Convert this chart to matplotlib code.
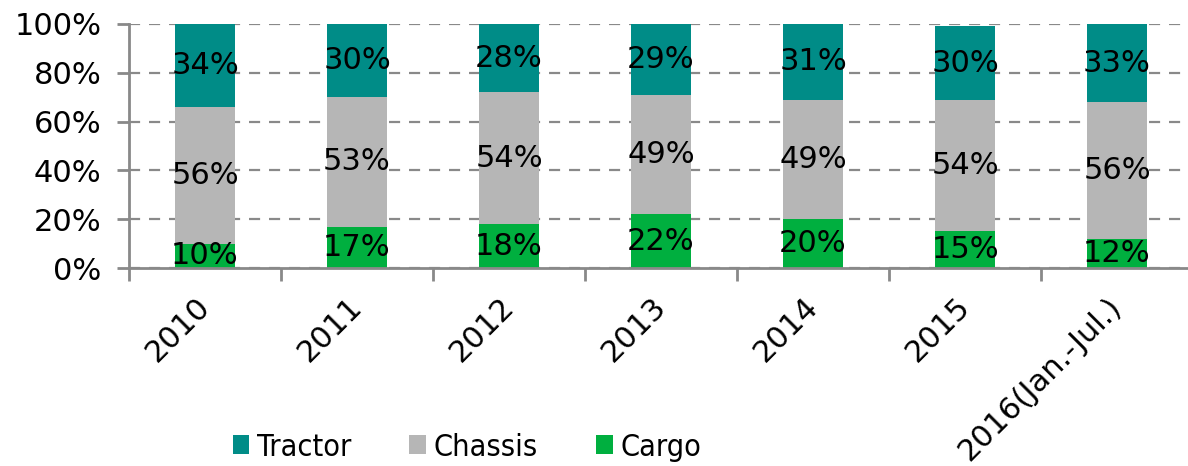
import matplotlib
matplotlib.use("Agg")
import matplotlib.pyplot as plt
import matplotlib.transforms as mtransforms
import numpy as np
from matplotlib.font_manager import FontProperties
from matplotlib.ticker import FixedLocator, PercentFormatter

years = ["2010", "2011", "2012", "2013", "2014", "2015", "2016(Jan.-Jul.)"]
tractor = [34, 30, 28, 29, 31, 30, 33]
chassis = [56, 53, 54, 49, 49, 54, 56]
cargo = [10, 17, 18, 22, 20, 15, 12]

TEAL = "#008C87"
GREY = "#B6B6B6"
GREEN = "#00AF3F"
AXIS = "#898989"

plt.rcParams["font.family"] = "DejaVu Sans"

fig = plt.figure(figsize=(11.88, 4.66), dpi=100)
ax = fig.add_axes([129 / 1188, 198 / 466, 1064 / 1188, 244 / 466])

x = np.arange(len(years))
cargo_a = np.array(cargo)
chassis_a = np.array(chassis)
b1 = ax.bar(x, cargo, 0.4, color=GREEN, label="Cargo", zorder=2)
b2 = ax.bar(x, chassis, 0.4, bottom=cargo_a, color=GREY, label="Chassis", zorder=2)
b3 = ax.bar(x, tractor, 0.4, bottom=cargo_a + chassis_a, color=TEAL, label="Tractor", zorder=2)

# segment labels sit a few pixels below the exact centre
down = mtransforms.ScaledTranslation(0, -4 / 100, fig.dpi_scale_trans)
for cont, vals in ((b1, cargo), (b2, chassis), (b3, tractor)):
    texts = ax.bar_label(cont, labels=[f"{v}%" for v in vals], label_type="center",
                         fontsize=22, color="black")
    for t in texts:
        t.set_transform(t.get_transform() + down)

ax.set_xlim(-0.5, 6.5)
ax.set_ylim(0, 100)
ax.set_yticks(range(0, 101, 20))
ax.yaxis.set_major_formatter(PercentFormatter(decimals=0))
ax.set_xticks(x)
ax.set_xticklabels([])
ax.xaxis.set_minor_locator(FixedLocator(np.arange(-0.5, 7, 1)))
ax.tick_params(axis="x", which="major", length=0)
ax.tick_params(axis="x", which="minor", length=9, width=2, color=AXIS)
ax.tick_params(axis="y", length=9, width=2, color=AXIS, labelsize=22, pad=11)

# rotated year labels, anchored just below the axis, a little left of centre
lab_tr = ax.get_xaxis_transform() + mtransforms.ScaledTranslation(
    -10 / 100, -24 / 100, fig.dpi_scale_trans)
for xi, yr in zip(x, years):
    ax.text(xi, 0, yr, transform=lab_tr, rotation=45, ha="right", va="top",
            rotation_mode="anchor", fontsize=22)

ax.set_axisbelow(True)
ax.yaxis.grid(True, color=AXIS, linestyle=(0, (5, 4)), linewidth=1.6, zorder=0)
for s in ("top", "right"):
    ax.spines[s].set_visible(False)
for s in ("left", "bottom"):
    ax.spines[s].set_color(AXIS)
    ax.spines[s].set_linewidth(2)

fig.legend(handles=[b3, b2, b1], loc="center", bbox_to_anchor=(467 / 1188, 1 - 447 / 466),
           ncol=3, frameon=False, prop=FontProperties(size=22, stretch="condensed"),
           handlelength=0.55, handleheight=0.55, handletextpad=0.25, columnspacing=1.9)

fig.savefig("out.png", dpi=100)
